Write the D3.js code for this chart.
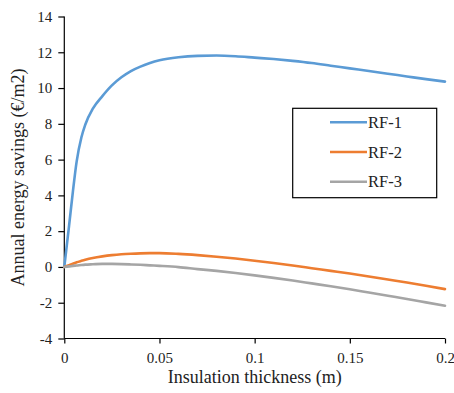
<!DOCTYPE html>
<html>
<head>
<meta charset="utf-8">
<script src="https://cdn.jsdelivr.net/npm/d3@7"></script>
<style>
  html, body { margin: 0; padding: 0; background: #fff; }
  svg { display: block; }
</style>
</head>
<body>
<svg id="chart" width="454" height="393"></svg>
<script>
// Insulation thickness (m)
const thickness = [0, 0.0025, 0.0045, 0.0065, 0.009, 0.011, 0.015, 0.02, 0.025, 0.03, 0.035, 0.04, 0.045, 0.05,
  0.06, 0.07, 0.08, 0.09, 0.1, 0.11, 0.12, 0.13, 0.14, 0.15, 0.16, 0.17, 0.18, 0.19, 0.2];

// Annual energy savings (€/m2) per roof configuration
const rf1 = [0, 2.3, 4.2, 5.9, 7.25, 7.95, 8.85, 9.55, 10.15, 10.6, 10.95, 11.2, 11.4, 11.55,
  11.72, 11.8, 11.82, 11.78, 11.7, 11.62, 11.52, 11.4, 11.25, 11.1, 10.95, 10.8, 10.65, 10.5, 10.36];
const rf2 = [0, 0.1, 0.18, 0.26, 0.34, 0.4, 0.5, 0.59, 0.66, 0.71, 0.74, 0.76, 0.77, 0.77,
  0.73, 0.66, 0.57, 0.47, 0.35, 0.22, 0.08, -0.07, -0.22, -0.37, -0.53, -0.7, -0.87, -1.05, -1.24];
const rf3 = [0, 0.03, 0.06, 0.08, 0.11, 0.13, 0.15, 0.17, 0.17, 0.16, 0.14, 0.12, 0.09, 0.06,
  -0.01, -0.12, -0.22, -0.34, -0.47, -0.61, -0.76, -0.92, -1.08, -1.25, -1.43, -1.61, -1.79, -1.98, -2.17];

const seriesNames = ["RF-1", "RF-2", "RF-3"];
const seriesValues = [rf1, rf2, rf3];
const seriesColors = ["#5B9BD5", "#ED7D31", "#A5A5A5"];

const xTicks = [0, 0.05, 0.1, 0.15, 0.2];
const xTickLabels = ["0", "0.05", "0.1", "0.15", "0.2"];
const yTicks = [-4, -2, 0, 2, 4, 6, 8, 10, 12, 14];
const yTickLabels = ["-4", "-2", "0", "2", "4", "6", "8", "10", "12", "14"];

const FONT = "'Liberation Serif', 'Times New Roman', serif";
const TEXT_COLOR = "#222";

const svg = d3.select("#chart");
const plot = { left: 64.3, right: 445, top: 16.5, bottom: 338.5 };

const x = d3.scaleLinear().domain([0, 0.2]).range([plot.left, plot.right]);
const y = d3.scaleLinear().domain([-4, 14]).range([plot.bottom, plot.top]);

// Axes
const yAxis = d3.axisLeft(y).tickValues(yTicks).tickSize(6).tickPadding(6)
  .tickFormat((d, i) => yTickLabels[i]);
const xAxis = d3.axisBottom(x).tickValues(xTicks).tickSize(5).tickPadding(9)
  .tickFormat((d, i) => xTickLabels[i]);

const gy = svg.append("g").attr("transform", `translate(${plot.left},0)`).call(yAxis);
const gx = svg.append("g").attr("transform", `translate(0,${plot.bottom})`).call(xAxis);

[gx, gy].forEach(g => {
  g.attr("font-family", null).attr("font-size", null);
  g.select(".domain").attr("stroke", "#000").attr("stroke-width", 1.2);
  g.selectAll(".tick line").attr("stroke", "#000").attr("stroke-width", 1.2);
  g.selectAll(".tick text").attr("fill", TEXT_COLOR)
    .style("font-family", FONT).style("font-size", "15px");
});
gx.select(".domain").attr("d", `M${plot.left},0H${plot.right}`);
gy.select(".domain").attr("d", `M0,${plot.bottom}V${plot.top}`);

// Series lines
const line = d3.line()
  .x(d => x(d[0]))
  .y(d => y(d[1]))
  .curve(d3.curveMonotoneX);

seriesValues.forEach((vals, i) => {
  svg.append("path")
    .datum(thickness.map((t, j) => [t, vals[j]]))
    .attr("fill", "none")
    .attr("stroke", seriesColors[i])
    .attr("stroke-width", 2.6)
    .attr("stroke-linecap", "round")
    .attr("stroke-linejoin", "round")
    .attr("d", line);
});

// Axis titles
svg.append("text")
  .attr("x", (plot.left + plot.right) / 2)
  .attr("y", 383)
  .attr("text-anchor", "middle")
  .attr("fill", TEXT_COLOR)
  .style("font-family", FONT)
  .style("font-size", "18px")
  .text("Insulation thickness (m)");

svg.append("text")
  .attr("transform", `translate(24,${(plot.top + plot.bottom) / 2}) rotate(-90)`)
  .attr("text-anchor", "middle")
  .attr("fill", TEXT_COLOR)
  .style("font-family", FONT)
  .style("font-size", "18px")
  .text("Annual energy savings (€/m2)");

// Legend
const legend = svg.append("g");
legend.append("rect")
  .attr("x", 292.7).attr("y", 108.3)
  .attr("width", 144).attr("height", 89.4)
  .attr("fill", "#fff").attr("stroke", "#000").attr("stroke-width", 1.2);

seriesNames.forEach((name, i) => {
  const ly = 122.3 + i * 29.7;
  legend.append("line")
    .attr("x1", 330).attr("x2", 367)
    .attr("y1", ly).attr("y2", ly)
    .attr("stroke", seriesColors[i]).attr("stroke-width", 2.6);
  legend.append("text")
    .attr("x", 368).attr("y", ly + 5.5)
    .attr("fill", TEXT_COLOR)
    .style("font-family", FONT)
    .style("font-size", "16.5px")
    .text(name);
});
</script>
</body>
</html>
